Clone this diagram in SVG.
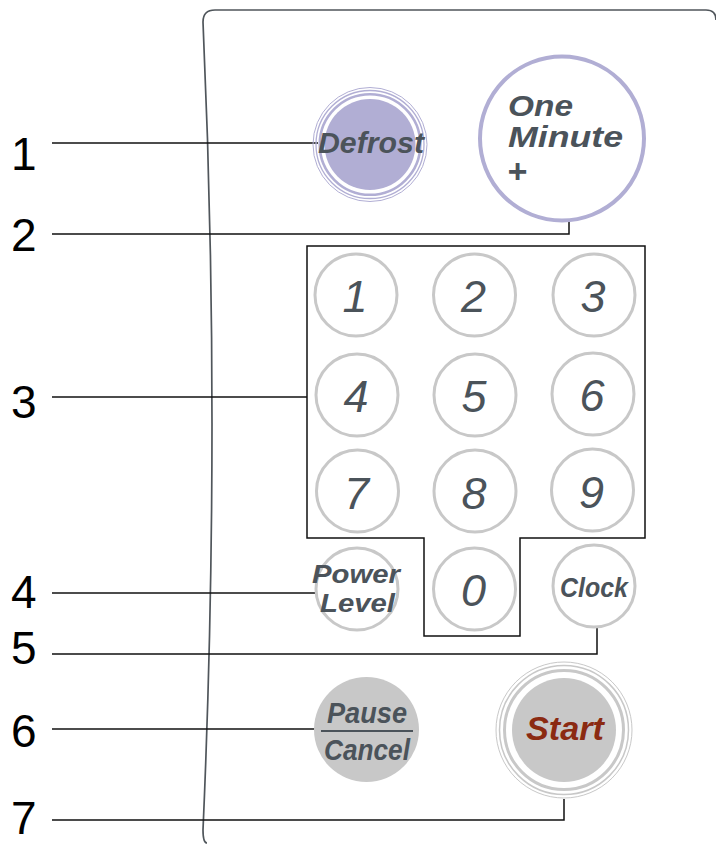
<svg xmlns="http://www.w3.org/2000/svg" width="716" height="844" viewBox="0 0 716 844">
  <style>
    .num { font-family: "Liberation Sans", Arial, sans-serif; font-size: 46px; fill: #000; }
    .lead { fill: none; stroke: #111; stroke-width: 1.5; }
    .key { fill: #fff; stroke: #c8c8c8; stroke-width: 3; }
    .digit { font-family: "Liberation Sans", Arial, sans-serif; font-style: italic; font-size: 45px; fill: #4b535a; text-anchor: middle; }
    .lbl { font-family: "Liberation Sans", Arial, sans-serif; font-style: italic; font-weight: bold; fill: #4b535a; }
    .lav { fill: none; stroke: #b1aed4; }
    .gry { fill: none; stroke: #c8c8c8; }
  </style>

  <rect width="716" height="844" fill="#fff"/>

  <!-- control panel outline -->
  <path id="panel" d="M716,20 Q716,10 706,10 L215,10 Q203,10 203,22 Q221,420 203,830 Q203,843 207,843" fill="none" stroke="#50565b" stroke-width="1.7"/>

  <!-- callout numbers -->
  <g id="callouts">
    <text class="num" x="11" y="170">1</text>
    <text class="num" x="11" y="251">2</text>
    <text class="num" x="11" y="418">3</text>
    <text class="num" x="11" y="608">4</text>
    <text class="num" x="11" y="664">5</text>
    <text class="num" x="11" y="747">6</text>
    <text class="num" x="11" y="834">7</text>
  </g>

  <!-- leader lines -->
  <g id="connectors">
    <path class="lead" d="M52,143 H318"/>
    <path class="lead" d="M52,234 H569 V220"/>
    <path class="lead" d="M52,397 H307"/>
    <path class="lead" d="M52,593 H316"/>
    <path class="lead" d="M52,654 H597 V627"/>
    <path class="lead" d="M52,729 H315"/>
    <path class="lead" d="M52,820 H564 V799"/>
  </g>

  <!-- keypad frame -->
  <path id="keypad-frame" d="M307,246 H645 V538 H520 V636 H424 V538 H307 Z" fill="none" stroke="#111" stroke-width="1.5"/>

  <g id="defrost">
    <circle class="lav" cx="370" cy="144.5" r="57" stroke-width="1"/>
    <circle class="lav" cx="370" cy="144.5" r="54" stroke-width="1.3"/>
    <circle class="lav" cx="370" cy="144.5" r="50.3" stroke-width="2.6"/>
    <circle cx="370" cy="144.5" r="45.5" fill="#b1aed4"/>
    <text class="lbl" x="371" y="153" font-size="30" text-anchor="middle" textLength="106" lengthAdjust="spacingAndGlyphs">Defrost</text>
  </g>

  <g id="one-minute">
    <circle cx="562" cy="138.5" r="82" fill="#fff" stroke="#b1aed4" stroke-width="4"/>
    <text class="lbl" x="508" y="116" font-size="29" textLength="65" lengthAdjust="spacingAndGlyphs">One</text>
    <text class="lbl" x="508" y="147" font-size="29" textLength="115" lengthAdjust="spacingAndGlyphs">Minute</text>
    <text class="lbl" x="507" y="183" font-size="34">+</text>
  </g>

  <g id="key-1"><circle class="key" cx="356" cy="295" r="41"/><text class="digit" x="355" y="312">1</text></g>
  <g id="key-2"><circle class="key" cx="474.5" cy="295" r="41"/><text class="digit" x="473.5" y="312">2</text></g>
  <g id="key-3"><circle class="key" cx="594" cy="295" r="41"/><text class="digit" x="593" y="312">3</text></g>
  <g id="key-4"><circle class="key" cx="357" cy="395" r="41"/><text class="digit" x="356" y="412">4</text></g>
  <g id="key-5"><circle class="key" cx="475" cy="395" r="41"/><text class="digit" x="474" y="412">5</text></g>
  <g id="key-6"><circle class="key" cx="593" cy="394" r="41"/><text class="digit" x="592" y="411">6</text></g>
  <g id="key-7"><circle class="key" cx="357.5" cy="491" r="41"/><text class="digit" x="356.5" y="509">7</text></g>
  <g id="key-8"><circle class="key" cx="475" cy="491" r="41"/><text class="digit" x="474" y="509">8</text></g>
  <g id="key-9"><circle class="key" cx="592.5" cy="490" r="41"/><text class="digit" x="591.5" y="508">9</text></g>
  <g id="key-0"><circle class="key" cx="474.5" cy="589" r="41"/><text class="digit" x="473.5" y="606">0</text></g>

  <g id="power-level">
    <circle class="key" cx="357" cy="589" r="41"/>
    <text class="lbl" x="356" y="583" font-size="26" text-anchor="middle" textLength="88" lengthAdjust="spacingAndGlyphs">Power</text>
    <text class="lbl" x="357.5" y="612" font-size="26" text-anchor="middle" textLength="75" lengthAdjust="spacingAndGlyphs">Level</text>
  </g>

  <g id="clock">
    <circle class="key" cx="594" cy="586" r="41"/>
    <text class="lbl" x="594" y="597" font-size="27" text-anchor="middle" textLength="68" lengthAdjust="spacingAndGlyphs">Clock</text>
  </g>

  <g id="pause-cancel">
    <circle cx="366.5" cy="729.5" r="52.5" fill="#c8c8c8"/>
    <text class="lbl" x="367" y="723" font-size="30" text-anchor="middle" textLength="80" lengthAdjust="spacingAndGlyphs">Pause</text>
    <line x1="321" y1="731" x2="413" y2="731" stroke="#4b535a" stroke-width="2"/>
    <text class="lbl" x="367" y="760" font-size="30" text-anchor="middle" textLength="86" lengthAdjust="spacingAndGlyphs">Cancel</text>
  </g>

  <g id="start">
    <circle class="gry" cx="564" cy="730" r="68" stroke-width="1"/>
    <circle class="gry" cx="564" cy="730" r="64.5" stroke-width="1.5"/>
    <circle class="gry" cx="564" cy="730" r="59.5" stroke-width="3"/>
    <circle cx="564" cy="730" r="52" fill="#c8c8c8"/>
    <text class="lbl" x="565" y="740" font-size="33" text-anchor="middle" style="fill:#8b2a12" textLength="78" lengthAdjust="spacingAndGlyphs">Start</text>
  </g>
</svg>
